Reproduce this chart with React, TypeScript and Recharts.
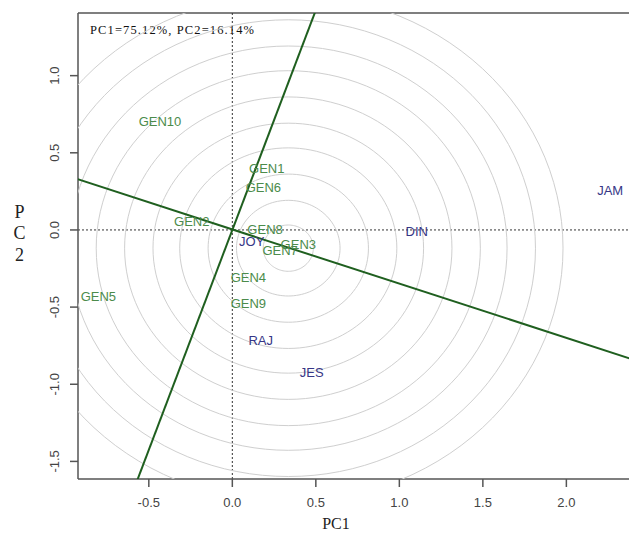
import React from 'react';
import { ScatterChart, Scatter, XAxis, YAxis, ReferenceLine } from 'recharts';

// Genotype scores (labels are drawn at the point)
const genotypeNames = ['GEN1', 'GEN2', 'GEN3', 'GEN4', 'GEN5', 'GEN6', 'GEN7', 'GEN8', 'GEN9', 'GEN10'];
const genotypePC1 = [0.206, -0.243, 0.395, 0.096, -0.802, 0.186, 0.286, 0.196, 0.096, -0.433];
const genotypePC2 = [0.4, 0.054, -0.097, -0.307, -0.432, 0.274, -0.136, 0.0, -0.475, 0.7];

// Environment scores
const envNames = ['JOY', 'RAJ', 'JES', 'DIN', 'JAM'];
const envPC1 = [0.116, 0.17, 0.475, 1.104, 2.262];
const envPC2 = [-0.076, -0.717, -0.925, -0.011, 0.253];

// Concentric circles around the ideal point
const circleCenter = [0.335, -0.118];
const circleRadii = [0.15, 0.31, 0.48, 0.65, 0.81, 0.98, 1.15, 1.31, 1.48, 1.645];

// Average-tester axis and its perpendicular (through origin)
const atcLine = [
  { x: -1.0, y: 0.355 },
  { x: 2.5, y: -0.875 },
];
const perpLine = [
  { x: -0.6, y: -1.71 },
  { x: 0.53, y: 1.51 },
];

const xTicks = [-0.5, 0, 0.5, 1, 1.5, 2];
const yTicks = [-1.5, -1, -0.5, 0, 0.5, 1];
const xDomain = [-0.924, 2.375];
const yDomain = [-1.614, 1.406];
const titleText = 'PC1=75.12%, PC2=16.14%';

const genotypeData = genotypeNames.map((name, i) => ({ name, x: genotypePC1[i], y: genotypePC2[i] }));
const envData = envNames.map((name, i) => ({ name, x: envPC1[i], y: envPC2[i] }));

const circleData = circleRadii.map((r) => {
  const pts: { x: number; y: number }[] = [];
  for (let a = 0; a <= 360; a += 3) {
    const t = (a * Math.PI) / 180;
    pts.push({ x: circleCenter[0] + r * Math.cos(t), y: circleCenter[1] + r * Math.sin(t) });
  }
  return pts;
});

const SANS = 'Liberation Sans, Arial, sans-serif';
const SERIF = 'Liberation Serif, Times New Roman, serif';

const makeLabel = (color: string) => (props: any) => {
  const { cx, cy, payload } = props;
  if (cx == null || cy == null) return <g />;
  return (
    <text x={cx} y={cy} textAnchor="middle" dominantBaseline="central" fill={color} fontSize={13} fontFamily={SANS}>
      {payload.name}
    </text>
  );
};

const YTick = (props: any) => {
  const { y, payload } = props;
  const bx = 59;
  return (
    <text x={bx} y={y} transform={`rotate(-90 ${bx} ${y})`} textAnchor="middle" fill="#444" fontSize={13} fontFamily={SANS}>
      {Number(payload.value).toFixed(1)}
    </text>
  );
};

const noShape = () => <g />;

export default function App() {
  return (
    <div style={{ position: 'absolute', left: 0, top: 0, width: 629, height: 533, background: '#fff' }}>
      <ScatterChart width={629} height={533} margin={{ top: 13, right: 0, bottom: 0, left: 0 }}>
        <XAxis
          type="number"
          dataKey="x"
          domain={xDomain}
          ticks={xTicks}
          allowDataOverflow
          tickFormatter={(v: number) => v.toFixed(1)}
          height={54}
          tickSize={8}
          tickMargin={11}
          stroke="#555"
          strokeWidth={1.5}
          tick={{ fill: '#444', fontSize: 13, fontFamily: SANS }}
        />
        <YAxis
          type="number"
          dataKey="y"
          domain={yDomain}
          ticks={yTicks}
          allowDataOverflow
          width={78}
          tickSize={8}
          stroke="#555"
          strokeWidth={1.5}
          tick={<YTick />}
        />
        <ReferenceLine y={yDomain[1]} stroke="#555" strokeWidth={1.5} />
        {circleData.map((pts, i) => (
          <Scatter
            key={'c' + i}
            data={pts}
            line={{ stroke: '#cfcfcf', strokeWidth: 1 }}
            lineType="joint"
            shape={noShape}
            isAnimationActive={false}
            legendType="none"
          />
        ))}
        <ReferenceLine x={0} stroke="#333" strokeDasharray="2 2" strokeWidth={1} />
        <ReferenceLine y={0} stroke="#333" strokeDasharray="2 2" strokeWidth={1} />
        <Scatter
          data={atcLine}
          line={{ stroke: '#1f5f1f', strokeWidth: 2 }}
          lineType="joint"
          shape={noShape}
          isAnimationActive={false}
          legendType="none"
        />
        <Scatter
          data={perpLine}
          line={{ stroke: '#1f5f1f', strokeWidth: 2 }}
          lineType="joint"
          shape={noShape}
          isAnimationActive={false}
          legendType="none"
        />
        <Scatter data={genotypeData} shape={makeLabel('#4b8b4b')} isAnimationActive={false} legendType="none" />
        <Scatter data={envData} shape={makeLabel('#363686')} isAnimationActive={false} legendType="none" />
        <g>
          <text x={90} y={34} fontSize={12.5} fontFamily={SERIF} fill="#111" textLength={164} lengthAdjust="spacing">
            {titleText}
          </text>
          <text x={336} y={529} textAnchor="middle" fontSize={16} fontFamily={SERIF} fill="#222">
            PC1
          </text>
          <text x={19.5} y={218} textAnchor="middle" fontSize={18} fontFamily={SERIF} fill="#222">P</text>
          <text x={19.5} y={239} textAnchor="middle" fontSize={18} fontFamily={SERIF} fill="#222">C</text>
          <text x={19.5} y={261} textAnchor="middle" fontSize={18} fontFamily={SERIF} fill="#222">2</text>
        </g>
      </ScatterChart>
    </div>
  );
}
